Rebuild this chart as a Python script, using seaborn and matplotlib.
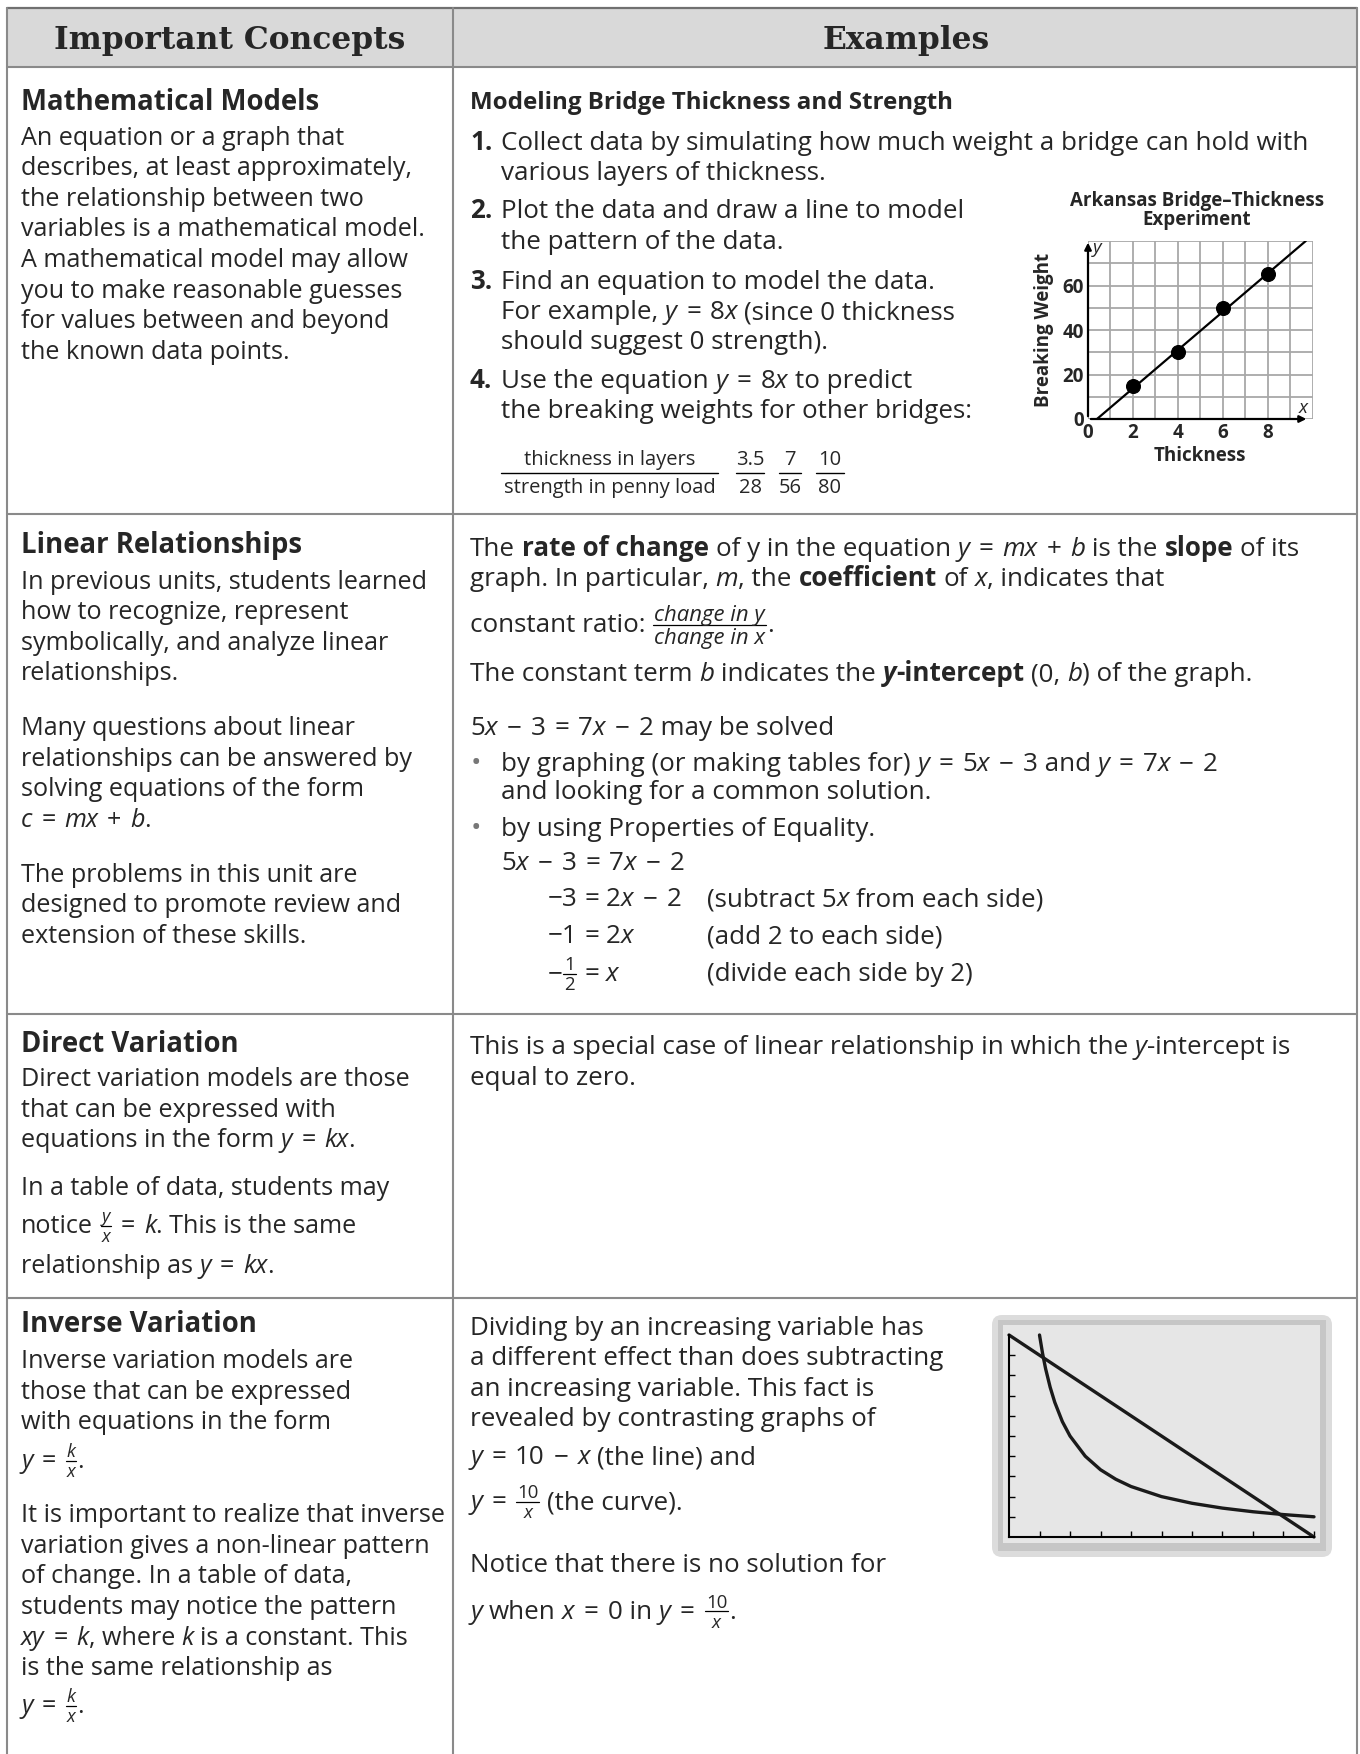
import re
import numpy as np
import matplotlib
matplotlib.use('Agg')
import matplotlib.pyplot as plt
from matplotlib.patches import Rectangle, FancyBboxPatch
import seaborn as sns

sns.set_theme(style='white')
BODY = 'Open Sans'
plt.rcParams['font.family'] = [BODY, 'DejaVu Sans']

# bridge experiment (thickness in layers vs breaking weight)
thickness = [2, 4, 6, 8]
breaking_weight = [15, 30, 50, 65]
fit_thickness = [0.4, 9.7]
fit_weight = [0, 80]
# prediction table
layers = ['3.5', '7', '10']
penny_load = ['28', '56', '80']
# inverse variation graph: y = 10 - x and y = 10/x
line_x = [0, 10]
line_y = [10, 0]
curve_x = [1, 1.1, 1.2, 1.35, 1.5, 1.75, 2, 2.5, 3, 3.5, 4, 5, 6, 7, 8, 9, 10]
curve_y = [10, 9.09, 8.33, 7.41, 6.67, 5.71, 5, 4, 3.33, 2.86, 2.5, 2, 1.67, 1.43, 1.25, 1.11, 1]

W, H = 1360, 1754
fig = plt.figure(figsize=(13.6, 17.54), dpi=100)
page = fig.add_axes([0, 0, 1, 1])
page.set_xlim(0, W)
page.set_ylim(H, 0)
page.axis('off')
r = fig.canvas.get_renderer()

STY = {'r': {}, 'i': {'style': 'italic'}, 'b': {'weight': 'bold'},
       'bi': {'weight': 'bold', 'style': 'italic'}}
TOKEN = re.compile(r'(\{\{.+?\}\}|\*\*\*.+?\*\*\*|\*\*.+?\*\*|\*.+?\*)')
FRAC = re.compile(r'\{\{(.+?)\|(.+?)(?:\|([\d.]+))?\}\}')
OPS = re.compile(r'( [=+\u2212] )')
SIZE_L, SIZE_R = 18.1, 18.7
_sw = {}


def space_w(size, sty):
    key = (size, sty)
    if key not in _sw:
        a = page.text(0, 0, 'n n', fontsize=size, **STY[sty])
        b = page.text(0, 0, 'nn', fontsize=size, **STY[sty])
        _sw[key] = a.get_window_extent(r).width - b.get_window_extent(r).width
        a.remove()
        b.remove()
    return _sw[key]


def shift(items, dx):
    for it in items:
        if hasattr(it, 'set_xdata'):
            it.set_xdata(np.asarray(it.get_xdata()) + dx)
        else:
            it.set_x(it.get_position()[0] + dx)


def put(x, base, txt, sty, size, items):
    lead = len(txt) - len(txt.lstrip(' '))
    trail = len(txt) - len(txt.rstrip(' '))
    core = txt.strip(' ')
    sw = space_w(size, sty)
    x += lead * sw
    if core:
        t = page.text(x, base, core, fontsize=size, va='baseline', ha='left', **STY[sty])
        items.append(t)
        x += t.get_window_extent(r).width
    return x + trail * sw


def draw_run(x, base, s, size):
    # small markup: *it*, **bold**, ***bold it***, {{num|den|scale}}
    items = []
    for tok in TOKEN.split(s):
        if not tok:
            continue
        if tok.startswith('{{'):
            num, den, sc = FRAC.match(tok).groups()
            px = size * 100 / 72
            fs = size * float(sc or 0.72)
            bar = base - 0.30 * px
            wn, tn = draw_run(0, bar - 3.5, num, fs)
            wd, td = draw_run(0, bar + 3 + 0.72 * fs * 100 / 72, den, fs)
            w = max(wn, wd) + 4
            shift(tn, x + (w - wn) / 2)
            shift(td, x + (w - wd) / 2)
            bl, = page.plot([x + 1, x + w - 1], [bar, bar], color='black', lw=0.9)
            items += tn + td + [bl]
            x += w
            continue
        if tok.startswith('***'):
            txt, sty = tok[3:-3], 'bi'
        elif tok.startswith('**'):
            txt, sty = tok[2:-2], 'b'
        elif tok.startswith('*'):
            txt, sty = tok[1:-1], 'i'
        else:
            txt, sty = tok, 'r'
        for piece in OPS.split(txt):
            if OPS.fullmatch(piece):
                # operators get a little more air than a word space
                sw = space_w(size, 'r')
                x = put(x + 1.35 * sw, base, piece.strip(), 'r', size, items) + 1.35 * sw
            elif piece:
                x = put(x, base, piece, sty, size, items)
    return x, items


def rich(x, yc, s, size=None, ha='left'):
    # yc is the visual middle of the line
    if size is None:
        size = SIZE_L if x < 453 else SIZE_R
    w, items = draw_run(0, yc + 0.45 * size, s, size)
    shift(items, x - (w if ha == 'right' else 0))


def title(x, y, s, size=19.8):
    page.text(x, y, s, fontsize=size, weight='bold', va='center', ha='left')


# table frame
page.add_patch(Rectangle((7, 8), 1350, 59, facecolor='#d9d9d9', edgecolor='none'))
LC = '#8a8a8a'
page.plot([7, 1357], [8, 8], color='#707070', lw=1.6)
for yy in [67, 514, 1013.5, 1297.5]:
    page.plot([7, 1357], [yy, yy], color=LC, lw=1.5)
for xx in [7, 453, 1357]:
    page.plot([xx, xx], [8, H], color=LC, lw=1.5)
page.text(230, 41, 'Important Concepts', fontsize=22.5, weight='bold', family='DejaVu Serif', ha='center', va='center')
page.text(906, 41, 'Examples', fontsize=22.5, weight='bold', family='DejaVu Serif', ha='center', va='center')

X0, X1, X2 = 21, 470, 501
S = 30.6

# ---- row 1 ----
title(X0, 102, 'Mathematical Models')
left1 = ['An equation or a graph that', 'describes, at least approximately,',
         'the relationship between two', 'variables is a mathematical model.',
         'A mathematical model may allow', 'you to make reasonable guesses',
         'for values between and beyond', 'the known data points.']
for i, s in enumerate(left1):
    rich(X0, 136.5 + S * i, s)

page.text(X1, 103, 'Modeling Bridge Thickness and Strength', fontsize=17.4, weight='bold', va='center')
steps = [(142, '1.', 'Collect data by simulating how much weight a bridge can hold with'),
         (172, '', 'various layers of thickness.'),
         (210, '2.', 'Plot the data and draw a line to model'),
         (241, '', 'the pattern of the data.'),
         (281, '3.', 'Find an equation to model the data.'),
         (311, '', 'For example, *y* = 8*x* (since 0 thickness'),
         (341, '', 'should suggest 0 strength).'),
         (380, '4.', 'Use the equation *y* = 8*x* to predict'),
         (410, '', 'the breaking weights for other bridges:')]
for yy, num, s in steps:
    if num:
        rich(X1, yy, '**' + num + '**')
    rich(X2, yy, s)

# prediction table as fractions
page.text(610, 460, 'thickness in layers', fontsize=14.5, ha='center', va='center')
page.plot([501, 718], [473, 473], color='black', lw=1)
page.text(610, 488, 'strength in penny load', fontsize=14.5, ha='center', va='center')
for cx, a, b in zip([750, 790, 829.5], layers, penny_load):
    page.text(cx, 460, a, fontsize=14.5, ha='center', va='center')
    page.text(cx, 488, b, fontsize=14.5, ha='center', va='center')
    hw = 14 if len(a) > 1 else 11
    page.plot([cx - hw, cx + hw], [473, 473], color='black', lw=1)

# ---- row 2 ----
title(X0, 546, 'Linear Relationships')
left2 = [(580.5, 'In previous units, students learned'), (611.1, 'how to recognize, represent'),
         (641.7, 'symbolically, and analyze linear'), (672.3, 'relationships.'),
         (727, 'Many questions about linear'), (757.6, 'relationships can be answered by'),
         (788.2, 'solving equations of the form'), (818.8, '*c* = *mx* + *b*.'),
         (873.5, 'The problems in this unit are'), (904.1, 'designed to promote review and'),
         (934.7, 'extension of these skills.')]
for yy, s in left2:
    rich(X0, yy, s)

right2 = [(548, 'The **rate of change** of y in the equation *y* = *mx* + *b* is the **slope** of its'),
          (578, 'graph. In particular, *m*, the **coefficient** of *x*, indicates that'),
          (624, 'constant ratio: {{*change in y*|*change in x*|0.85}}.'),
          (673, 'The constant term *b* indicates the ***y*****-intercept** (0, *b*) of the graph.'),
          (727, '5*x* \u2212 3 = 7*x* \u2212 2 may be solved')]
for yy, s in right2:
    rich(X1, yy, s)
for yy in [763, 828]:
    page.text(476, yy + 1, '\u2022', fontsize=20, color='#777777', ha='center', va='center')
rich(X2, 763, 'by graphing (or making tables for) *y* = 5*x* \u2212 3 and *y* = 7*x* \u2212 2')
rich(X2, 791, 'and looking for a common solution.')
rich(X2, 828, 'by using Properties of Equality.')
rich(X2, 862, '5*x* \u2212 3 = 7*x* \u2212 2')
solve = [(898, '\u22123', '2*x* \u2212 2', '(subtract 5*x* from each side)'),
         (935, '\u22121', '2*x*', '(add 2 to each side)'),
         (973, '\u2212{{1|2}}', '*x*', '(divide each side by 2)')]
for yy, lhs, rhs, note in solve:
    rich(577, yy, lhs, ha='right')
    rich(584, yy, '=')
    rich(606, yy, rhs)
    rich(707, yy, note)

# ---- row 3 ----
title(X0, 1045, 'Direct Variation')
left3 = [(1078, 'Direct variation models are those'), (1108.6, 'that can be expressed with'),
         (1139.2, 'equations in the form *y* = *kx*.'), (1187, 'In a table of data, students may'),
         (1225, 'notice {{*y*|*x*}} = *k*. This is the same'), (1265, 'relationship as *y* = *kx*.')]
for yy, s in left3:
    rich(X0, yy, s)
rich(X1, 1046, 'This is a special case of linear relationship in which the *y*-intercept is')
rich(X1, 1077, 'equal to zero.')

# ---- row 4 ----
title(X0, 1325, 'Inverse Variation')
left4 = [(1360, 'Inverse variation models are'), (1390.6, 'those that can be expressed'),
         (1421.2, 'with equations in the form'), (1460, '*y* = {{*k*|*x*}}.'),
         (1514, 'It is important to realize that inverse'), (1544.6, 'variation gives a non-linear pattern'),
         (1575.2, 'of change. In a table of data,'), (1605.8, 'students may notice the pattern'),
         (1636.4, '*xy* = *k*, where *k* is a constant. This'), (1667, 'is the same relationship as'),
         (1705, '*y* = {{*k*|*x*}}.')]
for yy, s in left4:
    rich(X0, yy, s)
right4 = [(1326.5, 'Dividing by an increasing variable has'), (1357, 'a different effect than does subtracting'),
          (1388, 'an increasing variable. This fact is'), (1418, 'revealed by contrasting graphs of'),
          (1456, '*y* = 10 \u2212 *x* (the line) and'), (1501, '*y* = {{10|*x*}} (the curve).'),
          (1563.5, 'Notice that there is no solution for'),
          (1610.5, '*y* when *x* = 0 in *y* = {{10|*x*}}.')]
for yy, s in right4:
    rich(X1, yy, s)

# calculator-style frame around the inverse graph
page.add_patch(FancyBboxPatch((992, 1315), 340, 242, boxstyle='round,pad=0,rounding_size=10',
                              facecolor='#dcdcdc', edgecolor='none'))
page.add_patch(Rectangle((998, 1320), 328, 231, facecolor='#c6c6c6', edgecolor='none'))


def px_axes(L, R, T, B):
    return fig.add_axes([L / W, 1 - B / H, (R - L) / W, (B - T) / H])


# ---- bridge chart ----
CF = 13.5
ax = px_axes(1088, 1312.5, 241, 419)
sns.lineplot(x=fit_thickness, y=fit_weight, ax=ax, color='black', lw=1.6)
sns.scatterplot(x=thickness, y=breaking_weight, ax=ax, color='black', s=100, zorder=5, edgecolor='black')
ax.set_xlim(0, 10)
ax.set_ylim(0, 80)
ax.set_xticks(range(0, 11))
ax.set_xticklabels(['0', '', '2', '', '4', '', '6', '', '8', '', ''])
ax.set_yticks(range(0, 81, 10))
ax.set_yticklabels(['0', '', '20', '', '40', '', '60', '', ''])
ax.grid(True, color='#a8a8a8', lw=1.3)
ax.set_axisbelow(True)
for sp in ax.spines.values():
    sp.set_visible(False)
ax.tick_params(length=0, labelsize=CF, pad=3)
for lab in ax.get_xticklabels() + ax.get_yticklabels():
    lab.set_fontweight('bold')
ax.annotate('', xy=(9.85, 0), xytext=(0, 0), annotation_clip=False,
            arrowprops=dict(arrowstyle='-|>', color='black', lw=1.6, mutation_scale=10))
ax.annotate('', xy=(0, 80.5), xytext=(0, 0), annotation_clip=False,
            arrowprops=dict(arrowstyle='-|>', color='black', lw=1.6, mutation_scale=10))
ax.text(9.6, 5, 'x', style='italic', fontsize=CF, ha='center', va='center')
ax.text(0.4, 77, 'y', style='italic', fontsize=CF, ha='center', va='center')
ax.set_xlabel('Thickness', fontsize=CF, weight='bold')
ax.xaxis.set_label_coords(0.5, -0.15)
ax.set_ylabel('Breaking Weight', fontsize=CF, weight='bold')
ax.yaxis.set_label_coords(-0.15, 0.5)
ax.text(0.484, 1.17, 'Arkansas Bridge\u2013Thickness\nExperiment', transform=ax.transAxes,
        ha='center', va='center', fontsize=CF, weight='bold', linespacing=0.92)

# ---- inverse variation graph ----
bx = px_axes(1003, 1320, 1325, 1543)
bx.set_facecolor('#e6e6e6')
sns.lineplot(x=line_x, y=line_y, ax=bx, color='#1a1a1a', lw=2.4)
sns.lineplot(x=curve_x, y=curve_y, ax=bx, color='#1a1a1a', lw=2.4)
bx.set_xlim(-0.197, 10.197)
bx.set_ylim(-0.297, 10.495)
for side in ['top', 'right']:
    bx.spines[side].set_visible(False)
bx.spines['left'].set_position(('data', 0))
bx.spines['left'].set_bounds(0, 10)
bx.spines['bottom'].set_position(('data', 0))
bx.spines['bottom'].set_bounds(0, 10)
for side in ['left', 'bottom']:
    bx.spines[side].set_color('black')
    bx.spines[side].set_linewidth(1.5)
bx.set_xticks(range(1, 11))
bx.set_yticks(range(1, 10))
bx.set_xticklabels([])
bx.set_yticklabels([])
bx.tick_params(direction='in', length=4, width=1, color='black', left=True, bottom=True)
bx.set_xlabel('')
bx.set_ylabel('')

fig.savefig('out.png', dpi=100)
